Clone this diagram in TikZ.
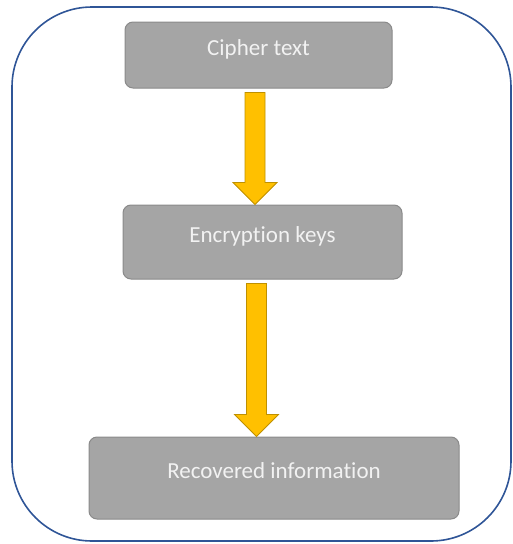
\documentclass[tikz,border=0pt]{standalone}
\usepackage{fontspec}
\setmainfont[Ligatures=NoCommon]{Carlito}
\usepackage{tikz}
\definecolor{box-fill}{HTML}{A5A5A5}
\definecolor{box-edge}{HTML}{8A8A8A}
\definecolor{box-text}{HTML}{F2F2F2}
\definecolor{flow-fill}{HTML}{FFC000}
\definecolor{flow-edge}{HTML}{BF9000}
\definecolor{frame-line}{HTML}{2F5597}
\usetikzlibrary{calc}
\tikzset{
  block/.style={
    rectangle, draw=box-edge, fill=box-fill, text=box-text,
    line width=1pt, rounded corners=8pt, inner sep=0pt,
    text height=14pt, text depth=14pt,
    font=\fontsize{23}{27}\selectfont
  },
  flow/.style={
    draw=flow-edge, fill=flow-fill, line width=.8pt, line join=miter
  },
  frame/.style={
    draw=frame-line, line width=1.6pt, rounded corners=80pt
  }
}
% fat arrow from one block down to the next, at a given x
\newcommand{\blockarrow}[3]{%
  \draw[flow] let \p1=(#1.south), \p2=(#2.north) in
    ({#3pt-10pt},{\y1-4pt}) -- ({#3pt+10pt},{\y1-4pt})
    -- ({#3pt+10pt},{\y2+22pt}) -- ({#3pt+22pt},{\y2+22pt})
    -- (#3pt,\y2) -- ({#3pt-22pt},{\y2+22pt})
    -- ({#3pt-10pt},{\y2+22pt}) -- cycle;}

\begin{document}
\begin{tikzpicture}[x=1pt, y=-1pt]
        \useasboundingbox (0,0) rectangle (513,544);
        \draw[frame] (12,7) rectangle (511,541);

        \node[block, minimum width=267pt, minimum height=66pt] (cipher) at (258.5,55) {Cipher text};
        \node[block, minimum width=279pt, minimum height=74pt] (keys) at (262.5,242) {Encryption keys};
        \node[block, minimum width=370pt, minimum height=82pt] (recovered) at (274,478) {Recovered information};

        \blockarrow{cipher}{keys}{255}
        \blockarrow{keys}{recovered}{256.5}
      \end{tikzpicture}
\end{document}
